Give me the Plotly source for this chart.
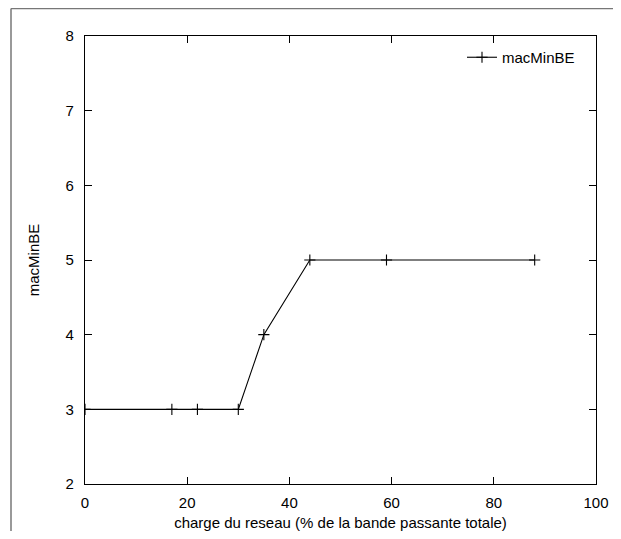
import plotly.graph_objects as go

load_pct = [0, 17, 22, 30, 35, 44, 59, 88]
mac_min_be = [3, 3, 3, 3, 4, 5, 5, 5]
series_name = "macMinBE"
x_title = "charge du reseau (% de la bande passante totale)"
y_title = "macMinBE"

# page has an 8px body margin on every side; keep the figure inside the window
OFF = 8
W, H = 621 - 2 * OFF, 539 - 2 * OFF
L, T = 85 - OFF, 36 - OFF
R = (OFF + W) - 596
B = (OFF + H) - 484
pw, ph = W - L - R, H - T - B

FONT = "Liberation Sans, Arial, Helvetica, sans-serif"

fig = go.Figure()
fig.add_trace(go.Scatter(
    x=load_pct, y=mac_min_be, mode="lines+markers", name=series_name,
    line=dict(color="black", width=1.1),
    marker=dict(symbol="cross-thin", size=8, color="black",
                line=dict(color="black", width=1.1)),
))

axis_common = dict(
    showline=True, linecolor="black", linewidth=1.3, mirror="ticks",
    ticks="inside", ticklen=7, tickwidth=1, tickcolor="black",
    showgrid=False, zeroline=False, automargin=False,
    tickfont=dict(family=FONT, size=15, color="black"),
)

# outer page frame (top and left edges only are visible in the reference)
fx0 = (11 - 85) / pw
fx1 = (W - L) / pw
fy_top = (T + ph - 0.5) / ph
fy_bot = -B / ph
frame = dict(color="#777777", width=1.5)

fig.update_layout(
    width=W, height=H,
    margin=dict(l=L, r=R, t=T, b=B, autoexpand=False),
    paper_bgcolor="white", plot_bgcolor="white",
    font=dict(family=FONT, size=15, color="black"),
    xaxis=dict(range=[0, 100], dtick=20, ticklabelstandoff=5,
               title=dict(text=x_title, standoff=10, font=dict(size=15)),
               **axis_common),
    yaxis=dict(range=[2, 8], dtick=1, ticklabelstandoff=7,
               title=dict(text=y_title, standoff=22, font=dict(size=15)),
               **axis_common),
    showlegend=True,
    legend=dict(x=(580 - 85) / pw, y=1 - 5 / ph, xanchor="right", yanchor="top",
                bgcolor="rgba(0,0,0,0)", font=dict(size=15)),
    shapes=[
        dict(type="line", xref="paper", yref="paper",
             x0=fx0, x1=fx1, y0=fy_top, y1=fy_top, line=frame, layer="below"),
        dict(type="line", xref="paper", yref="paper",
             x0=fx0, x1=fx0, y0=fy_bot, y1=fy_top, line=frame, layer="below"),
    ],
)

fig.write_html("out.html", config={"displayModeBar": False})
